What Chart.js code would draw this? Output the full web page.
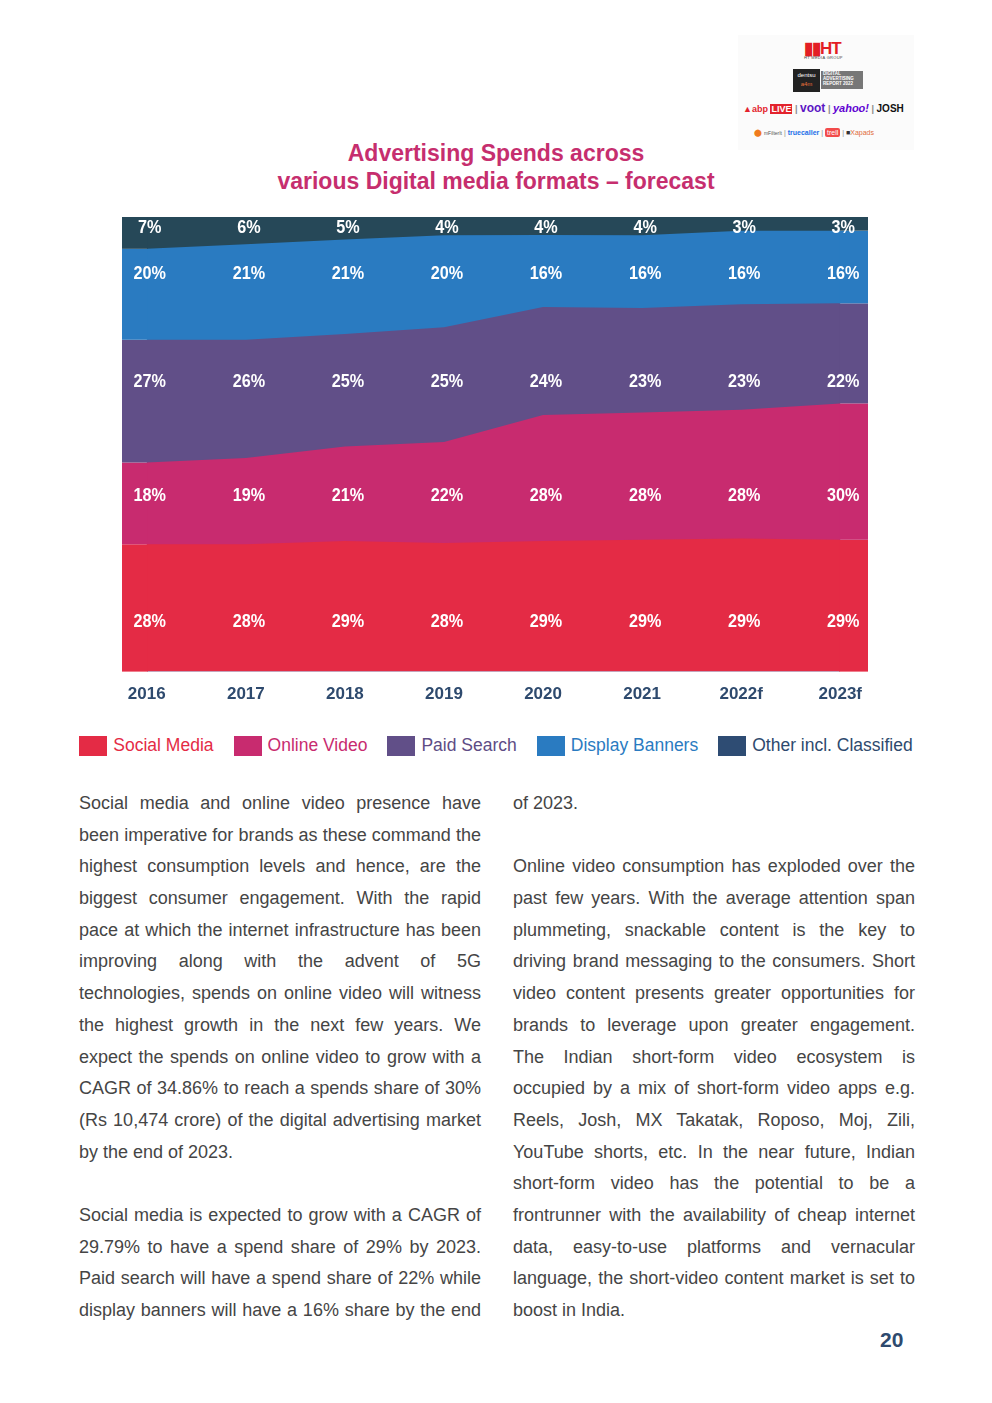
<!DOCTYPE html>
<html>
<head>
<meta charset="utf-8">
<script src="https://cdn.jsdelivr.net/npm/chart.js@4.4.1/dist/chart.umd.min.js"></script>
<style>
body { margin: 0; background: #fff; }
#page { position: relative; width: 992px; height: 1403px; font-family: "Liberation Sans", Arial, sans-serif; }
#title { position: absolute; left: 0; top: 139px; width: 992px; text-align: center; color: #C62E6E; font-weight: bold; font-size: 23px; line-height: 28px; }
#chartBox { position: absolute; left: 100px; top: 207px; width: 792px; height: 503px; }
#legend { position: absolute; left: 0; top: 735px; width: 992px; display: flex; justify-content: center; gap: 20px; font-size: 17.5px; }
#legend .item { display: flex; align-items: center; }
#legend .sw { width: 28px; height: 20px; margin-right: 6px; }
.col { position: absolute; top: 788px; width: 402px; color: #454545; font-size: 18px; }
.col div { height: 31.7px; line-height: 31.7px; text-align: justify; text-align-last: justify; white-space: nowrap; }
.col div.end { text-align-last: left; }
#pageNo { position: absolute; left: 880px; top: 1328px; font-weight: bold; font-size: 21px; color: #2E4A6E; }
#logo { position: absolute; left: 738px; top: 35px; width: 176px; height: 115px; background: #fbfbfb; text-align: center; }
#logo .tiny { font-size: 4px; color: #444; letter-spacing: 0.3px; }
</style>
</head>
<body>
<div id="page">
  <div id="logo">
    <div style="position:absolute; left:66px; top:3px; font-weight:bold; font-size:17px; color:#E31E25; letter-spacing:-1px;">&#9646;&#9646;HT</div>
    <div class="tiny" style="position:absolute; left:66px; top:20px;">HT MEDIA GROUP</div>
    <div style="position:absolute; left:55px; top:34px; width:27px; height:21px; background:#222; color:#fff; font-size:6px; line-height:9px; padding-top:2px;">dentsu<br><span style="color:#e8703a">a4m</span></div>
    <div style="position:absolute; left:83px; top:36px; width:40px; height:18px; background:#777; color:#fff; font-size:4.5px; line-height:5px; text-align:left; padding-left:2px; font-weight:bold;">DIGITAL<br>ADVERTISING<br>REPORT 2022</div>
    <div style="position:absolute; left:5px; top:66px; font-size:9px; white-space:nowrap; font-weight:bold;">
      <span style="color:#E3232D">&#9650;abp</span> <span style="background:#E3232D; color:#fff; padding:0 1px;">LIVE</span>
      <span style="color:#888">|</span> <span style="color:#5B16C4; font-size:12px;">voot</span>
      <span style="color:#888">|</span> <span style="color:#6001D2; font-style:italic; font-size:11px;">yahoo!</span>
      <span style="color:#888">|</span> <span style="color:#111; font-size:10px;">JOSH</span>
    </div>
    <div style="position:absolute; left:16px; top:94px; font-size:7px; white-space:nowrap;">
      <span style="color:#F07B1E;">&#11044;</span> <span style="color:#555; font-size:5px;">mFilterIt</span>
      <span style="color:#888">|</span> <span style="color:#1C6FE8; font-weight:bold;">truecaller</span>
      <span style="color:#888">|</span> <span style="background:#F24B4B; color:#fff; padding:1px 2px; border-radius:2px;">trell</span>
      <span style="color:#888">|</span> <span style="color:#333;">&#9632;</span><span style="color:#E06A3A;">Xapads</span>
    </div>
  </div>

  <div id="title">Advertising Spends across<br>various Digital media formats – forecast</div>

  <div id="chartBox"><canvas id="spendsChart"></canvas></div>
  <div id="legend"></div>

  <div class="col" style="left:79px;">
    <div>Social media and online video presence have</div>
    <div>been imperative for brands as these command the</div>
    <div>highest consumption levels and hence, are the</div>
    <div>biggest consumer engagement. With the rapid</div>
    <div>pace at which the internet infrastructure has been</div>
    <div>improving along with the advent of 5G</div>
    <div>technologies, spends on online video will witness</div>
    <div>the highest growth in the next few years. We</div>
    <div>expect the spends on online video to grow with a</div>
    <div>CAGR of 34.86% to reach a spends share of 30%</div>
    <div>(Rs 10,474 crore) of the digital advertising market</div>
    <div class="end">by the end of 2023.</div>
    <div class="end"></div>
    <div>Social media is expected to grow with a CAGR of</div>
    <div>29.79% to have a spend share of 29% by 2023.</div>
    <div>Paid search will have a spend share of 22% while</div>
    <div>display banners will have a 16% share by the end</div>
  </div>

  <div class="col" style="left:513px;">
    <div class="end">of 2023.</div>
    <div class="end"></div>
    <div>Online video consumption has exploded over the</div>
    <div>past few years. With the average attention span</div>
    <div>plummeting, snackable content is the key to</div>
    <div>driving brand messaging to the consumers. Short</div>
    <div>video content presents greater opportunities for</div>
    <div>brands to leverage upon greater engagement.</div>
    <div>The Indian short-form video ecosystem is</div>
    <div>occupied by a mix of short-form video apps e.g.</div>
    <div>Reels, Josh, MX Takatak, Roposo, Moj, Zili,</div>
    <div>YouTube shorts, etc. In the near future, Indian</div>
    <div>short-form video has the potential to be a</div>
    <div>frontrunner with the availability of cheap internet</div>
    <div>data, easy-to-use platforms and vernacular</div>
    <div>language, the short-video content market is set to</div>
    <div class="end">boost in India.</div>
  </div>

  <div id="pageNo">20</div>
</div>

<script>
const years = ['2016', '2017', '2018', '2019', '2020', '2021', '2022f', '2023f']
const socialMedia = [28, 28, 29, 28, 29, 29, 29, 29]
const onlineVideo = [18, 19, 21, 22, 28, 28, 28, 30]
const paidSearch = [27, 26, 25, 25, 24, 23, 23, 22]
const displayBanners = [20, 21, 21, 20, 16, 16, 16, 16]
const otherClassified = [7, 6, 5, 4, 4, 4, 3, 3]

const series = [
    { name: 'Social Media', values: socialMedia, color: '#E42B45', legendColor: '#E42B45', text: '#E42B45' },
    { name: 'Online Video', values: onlineVideo, color: '#C82B6F', legendColor: '#C82B6F', text: '#C82B6F' },
    { name: 'Paid Search', values: paidSearch, color: '#614F88', legendColor: '#614F88', text: '#5E4C85' },
    { name: 'Display Banners', values: displayBanners, color: '#2A7BC1', legendColor: '#2A7BC1', text: '#2A7BC1' },
    { name: 'Other incl. Classified', values: otherClassified, color: '#264858', legendColor: '#2E4C73', text: '#2E4A6E' },
]

// rounded shares don't always add to 100, so draw each year as share of its total
const totals = years.map((y, j) => series.reduce((s, ser) => s + ser.values[j], 0))

// label nudges (px) per band so the text sits like the original
const labelShift = [15, 10, 6, -5, 1]

const edgeFill = { // carry the bands flat out to the plot edges
    id: 'edgeFill',
    afterDatasetsDraw(chart) {
        const { ctx, chartArea } = chart
        const bottom = chart.scales.y.getPixelForValue(0)
        ctx.save()
        chart.data.datasets.forEach((ds, i) => {
            const pts = chart.getDatasetMeta(i).data
            const below = i == 0 ? null : chart.getDatasetMeta(i - 1).data
            const n = pts.length - 1
            const firstBottom = below ? below[0].y : bottom
            const lastBottom = below ? below[n].y : bottom
            ctx.fillStyle = ds.backgroundColor
            ctx.fillRect(chartArea.left, pts[0].y, pts[0].x - chartArea.left + 1, firstBottom - pts[0].y)
            ctx.fillRect(pts[n].x - 1, pts[n].y, chartArea.right - pts[n].x + 1, lastBottom - pts[n].y)
        })
        ctx.restore()
    }
}

const bandLabels = {
    id: 'bandLabels',
    afterDatasetsDraw(chart) {
        const { ctx } = chart
        const bottom = chart.scales.y.getPixelForValue(0)
        ctx.save()
        ctx.font = 'bold 18px "Liberation Sans", Arial, sans-serif'
        ctx.fillStyle = '#fff'
        ctx.textAlign = 'center'
        ctx.textBaseline = 'middle'
        chart.data.datasets.forEach((ds, i) => {
            const pts = chart.getDatasetMeta(i).data
            const lower = i == 0 ? null : chart.getDatasetMeta(i - 1).data
            const mids = pts.map((p, j) => ((lower ? lower[j].y : bottom) + p.y) / 2)
            const avg = mids.reduce((a, b) => a + b, 0) / mids.length
            pts.forEach((p, j) => {
                // squeeze the text a little, the source uses a condensed face
                ctx.save()
                ctx.translate(p.x + 3, avg + labelShift[i])
                ctx.scale(0.9, 1)
                ctx.fillText(series[i].values[j] + '%', 0, 0)
                ctx.restore()
            })
        })
        ctx.restore()
    }
}

const htmlLegend = {
    id: 'htmlLegend',
    afterUpdate(chart) {
        const box = document.getElementById('legend')
        box.innerHTML = ''
        chart.data.datasets.forEach((ds, i) => {
            const item = document.createElement('div')
            item.className = 'item'
            const sw = document.createElement('span')
            sw.className = 'sw'
            sw.style.background = series[i].legendColor
            const txt = document.createElement('span')
            txt.textContent = ds.label
            txt.style.color = series[i].text
            item.appendChild(sw)
            item.appendChild(txt)
            box.appendChild(item)
        })
    }
}

function create_area_chart(ctx) {
    const datasets = series.map((s) => ({
        label: s.name,
        data: s.values.map((v, j) => ({ x: j, y: v / totals[j] * 100 })),
        backgroundColor: s.color,
        borderColor: s.color,
        borderWidth: 0,
        pointRadius: 0,
        tension: 0,
        fill: 'origin'
    }))

    const config = {
        type: 'line',
        data: { datasets: datasets },
        options: {
            responsive: true,
            maintainAspectRatio: false,
            animation: false,
            layout: { padding: { left: 22, right: 24, top: 10, bottom: 0 } },
            plugins: {
                legend: { display: false },
                tooltip: { enabled: false }
            },
            scales: {
                x: {
                    type: 'linear',
                    min: -0.25,
                    max: 7.28,
                    afterBuildTicks: (scale) => {
                        scale.ticks = years.map((y, i) => ({ value: i }))
                    },
                    ticks: {
                        callback: (v) => years[v],
                        color: '#2E4A6E',
                        font: { family: '"Liberation Sans", Arial, sans-serif', size: 17, weight: 'bold' },
                        padding: 5,
                        maxRotation: 0,
                        autoSkip: false
                    },
                    grid: { display: false },
                    border: { display: false }
                },
                y: {
                    stacked: true,
                    min: 0,
                    max: 100,
                    display: false
                }
            }
        },
        plugins: [edgeFill, bandLabels, htmlLegend]
    }
    return new Chart(ctx, config)
}

create_area_chart(document.getElementById('spendsChart'))
</script>
</body>
</html>
